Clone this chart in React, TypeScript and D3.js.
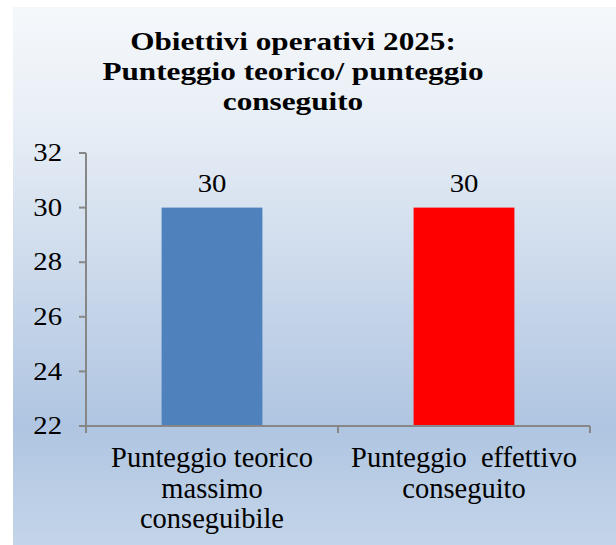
import React from 'react';
import * as d3 from 'd3';

const width = 616;
const height = 545;

const titleLines = ['Obiettivi operativi 2025:', 'Punteggio teorico/ punteggio', 'conseguito'];
const categories = ['teorico', 'effettivo'];
const categoryLabels = [
  ['Punteggio teorico', 'massimo', 'conseguibile'],
  ['Punteggio  effettivo', 'conseguito'],
];
const values = [30, 30];
const barColors = ['#4f81bd', '#ff0000'];
const yTicks = [22, 24, 26, 28, 30, 32];

const plot = { left: 86, right: 590, top: 153, bottom: 426 };
const serif = "'Liberation Serif', 'Times New Roman', serif";

const App = () => {
  const x = d3.scaleBand<string>()
    .domain(categories)
    .range([plot.left, plot.right]);

  const y = d3.scaleLinear()
    .domain([22, 32])
    .range([plot.bottom, plot.top]);

  const barW = x.bandwidth() * 0.4;
  const axisColor = '#878787';

  return (
    <svg width={width} height={height} style={{ position: 'absolute', left: 0, top: 0 }}>
      <defs>
        <linearGradient id="bg" x1="0" y1="0" x2="0" y2="1">
          <stop offset="0" stopColor="#f5f8fb" />
          <stop offset="0.2" stopColor="#e9eff6" />
          <stop offset="0.78" stopColor="#afc5e1" />
          <stop offset="1" stopColor="#c4d5e9" />
        </linearGradient>
      </defs>
      <rect x={0} y={0} width={width} height={height} fill="#fff" />
      <rect x={13} y={7} width={width - 13} height={height - 7} fill="url(#bg)" />

      {/* title (stretched a bit to mimic the wider original face) */}
      <g transform="translate(293,0) scale(1.2,1)">
        <text textAnchor="middle" fontFamily={serif} fontWeight="bold" fontSize={26} fill="#000">
          {titleLines.map((t, i) => (
            <tspan key={i} x={0} y={50 + i * 30}>{t}</tspan>
          ))}
        </text>
      </g>

      {/* bars */}
      {categories.map((c, i) => (
        <rect
          key={c}
          x={x(c)! + x.bandwidth() / 2 - barW / 2}
          y={y(values[i])}
          width={barW}
          height={y(22) - y(values[i])}
          fill={barColors[i]}
        />
      ))}

      {/* value labels */}
      {categories.map((c, i) => (
        <g key={c} transform={`translate(${x(c)! + x.bandwidth() / 2},${y(values[i]) - 16}) scale(1.15,1)`}>
          <text textAnchor="middle" fontFamily={serif} fontSize={25} fill="#000">
            {values[i]}
          </text>
        </g>
      ))}

      {/* y axis */}
      <line x1={plot.left} x2={plot.left} y1={plot.top} y2={plot.bottom + 7} stroke={axisColor} strokeWidth={2} />
      {yTicks.map(t => (
        <g key={t}>
          <line x1={plot.left - 7} x2={plot.left} y1={y(t)} y2={y(t)} stroke={axisColor} strokeWidth={2} />
          <g transform={`translate(62,${y(t)}) scale(1.15,1)`}>
            <text dy="0.33em" textAnchor="end" fontFamily={serif} fontSize={25} fill="#000">
              {t}
            </text>
          </g>
        </g>
      ))}

      {/* x axis */}
      <line x1={plot.left - 7} x2={plot.right} y1={plot.bottom} y2={plot.bottom} stroke={axisColor} strokeWidth={2} />
      {[...categories.map(c => x(c)!), plot.right].map((px, i) => (
        <line key={i} x1={px} x2={px} y1={plot.bottom} y2={plot.bottom + 7} stroke={axisColor} strokeWidth={2} />
      ))}

      {/* category labels */}
      {categories.map((c, i) => (
        <text
          key={c}
          textAnchor="middle"
          fontFamily={serif}
          fontSize={28.5}
          fill="#000"
          style={{ whiteSpace: 'pre' }}
        >
          {categoryLabels[i].map((l, j) => (
            <tspan key={j} x={x(c)! + x.bandwidth() / 2} y={467 + j * 30.5}>{l}</tspan>
          ))}
        </text>
      ))}
    </svg>
  );
};

export default App;
